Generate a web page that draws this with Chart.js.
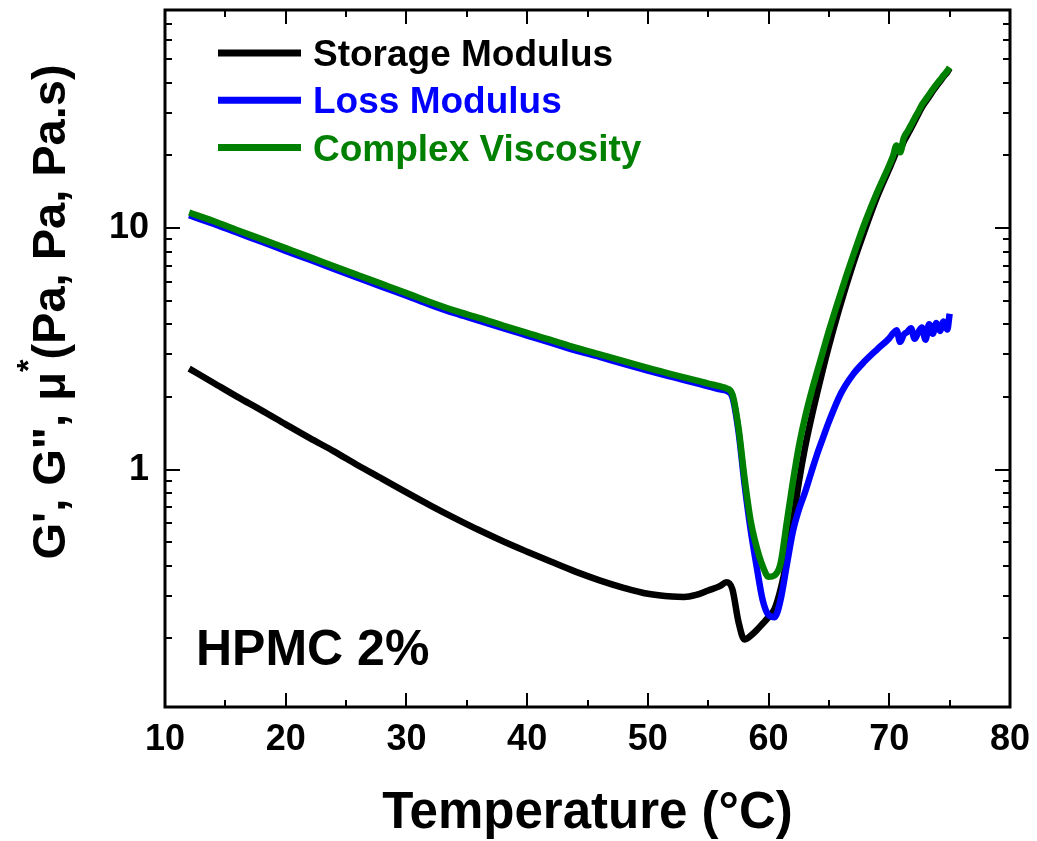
<!DOCTYPE html>
<html>
<head>
<meta charset="utf-8">
<script src="https://cdn.jsdelivr.net/npm/chart.js@4.4.1/dist/chart.umd.min.js"></script>
<style>
  html, body { margin: 0; padding: 0; background: #fff; }
  #wrap { width: 1037px; height: 841px; }
</style>
</head>
<body>
<div id="wrap"><canvas id="rheology"></canvas></div>
<script>
// temperature (°C) shared by all three series
const temperature = [12, 14, 16, 18, 20, 22, 24, 26, 28, 30, 32, 34, 36, 38, 40, 42, 44, 46, 48, 50, 52, 53, 54, 55, 56,
  56.5, 57, 57.5, 58, 58.5, 59, 59.5, 60, 60.5, 61, 61.5, 62, 62.5, 63, 63.5, 64, 64.5, 65,
  66, 67, 68, 69, 70, 70.3, 70.6, 70.9, 71.2, 71.5, 71.8, 72.1, 72.4, 72.7, 73, 73.3, 73.6, 73.9, 74.2, 74.5, 74.8, 75]

// G' (Pa)
const storageModulus = [2.62, 2.29, 2.0, 1.76, 1.54, 1.35, 1.19, 1.04, 0.916, 0.805, 0.71, 0.63, 0.562, 0.505, 0.457, 0.415, 0.378, 0.348, 0.324, 0.306, 0.298, 0.297, 0.303, 0.316, 0.33,
  0.342, 0.32, 0.235, 0.198, 0.205, 0.216, 0.23, 0.245, 0.265, 0.32, 0.42, 0.6, 0.88, 1.22, 1.6, 2.05, 2.6, 3.25,
  4.9, 7.1, 9.9, 13.5, 17.6, 19.1, 20.6, 21.0, 22.8, 24.3, 25.9, 27.7, 29.6, 31.6, 33.3, 35.0, 36.9, 38.7, 40.4, 42.4, 44.2, 45.8]

// G'' (Pa)
const lossModulus = [11.3, 10.43, 9.56, 8.78, 8.05, 7.39, 6.78, 6.22, 5.71, 5.25, 4.81, 4.44, 4.14, 3.85, 3.59, 3.35, 3.12, 2.93, 2.74, 2.57, 2.42, 2.35, 2.28, 2.21, 2.15,
  2.12, 2.0, 1.45, 0.88, 0.57, 0.40, 0.29, 0.25, 0.245, 0.29, 0.40, 0.55, 0.68, 0.80, 0.96, 1.15, 1.35, 1.58,
  2.07, 2.48, 2.82, 3.15, 3.5, 3.66, 3.78, 3.38, 3.62, 3.72, 3.85, 3.48, 3.7, 3.88, 3.45, 4.0, 3.65, 4.05, 3.75, 4.1, 3.8, 4.42]

// mu* (Pa.s)
const complexViscosity = [11.6, 10.7, 9.8, 9.0, 8.26, 7.58, 6.95, 6.38, 5.86, 5.38, 4.93, 4.55, 4.25, 3.95, 3.68, 3.44, 3.20, 3.00, 2.81, 2.64, 2.48, 2.41, 2.34, 2.27, 2.21,
  2.17, 2.05, 1.5, 0.93, 0.62, 0.48, 0.40, 0.36, 0.365, 0.41, 0.60, 0.88, 1.24, 1.63, 2.05, 2.52, 3.08, 3.76,
  5.43, 7.67, 10.6, 14.1, 18.2, 19.8, 22.0, 20.6, 23.6, 25.1, 26.7, 28.5, 30.3, 32.4, 34.0, 35.7, 37.5, 39.3, 41.0, 42.9, 44.7, 46.3]

const seriesNames = ['Storage Modulus', 'Loss Modulus', 'Complex Viscosity']
const seriesColors = ['#000000', '#0000ff', '#008000']

const xTickLabels = [10, 20, 30, 40, 50, 60, 70, 80]
const xMinorTicks = [15, 25, 35, 45, 55, 65, 75]
const yTickLabels = [1, 10]
const yMinorTicks = [0.2, 0.3, 0.4, 0.5, 0.6, 0.7, 0.8, 0.9, 2, 3, 4, 5, 6, 7, 8, 9, 20, 30, 40, 50, 60, 70]

const FONT = '"Liberation Sans", Arial, sans-serif'

const points = vals => temperature.map((t, i) => ({ x: t, y: vals[i] }))

// frame, inward ticks, legend and the texts
const decorPlugin = {
  id: 'decor',
  afterDatasetsDraw(chart) {
    const { ctx, chartArea: a, scales: { x, y } } = chart
    ctx.save()
    ctx.strokeStyle = '#000'
    ctx.lineWidth = 2
    ctx.beginPath()
    const xt = (v, len) => {
      const p = Math.round(x.getPixelForValue(v))
      ctx.moveTo(p, a.bottom); ctx.lineTo(p, a.bottom - len)
      ctx.moveTo(p, a.top); ctx.lineTo(p, a.top + len)
    }
    const yt = (v, len) => {
      const p = Math.round(y.getPixelForValue(v))
      ctx.moveTo(a.left, p); ctx.lineTo(a.left + len, p)
      ctx.moveTo(a.right, p); ctx.lineTo(a.right - len, p)
    }
    xTickLabels.forEach(v => xt(v, 14))
    xMinorTicks.forEach(v => xt(v, 7))
    yTickLabels.forEach(v => yt(v, 15))
    yMinorTicks.forEach(v => yt(v, 7))
    ctx.stroke()
    ctx.lineWidth = 3
    ctx.strokeRect(a.left, a.top, a.right - a.left, a.bottom - a.top)

    // legend
    ctx.font = 'bold 37px ' + FONT
    ctx.textAlign = 'left'
    ctx.textBaseline = 'alphabetic'
    ctx.lineWidth = 7
    seriesNames.forEach((name, i) => {
      const ly = 53 + i * 47.3
      ctx.strokeStyle = seriesColors[i]
      ctx.beginPath(); ctx.moveTo(218, ly); ctx.lineTo(301, ly); ctx.stroke()
      ctx.fillStyle = seriesColors[i]
      ctx.fillText(name, 313, ly + 13)
    })

    ctx.fillStyle = '#000'
    ctx.font = 'bold 50px ' + FONT
    ctx.fillText('HPMC 2%', 196, 665)

    // x title
    ctx.textAlign = 'center'
    ctx.font = 'bold 51px ' + FONT
    ctx.fillText('Temperature (°C)', (a.left + a.right) / 2, 828)

    // y title, rotated, with superscript asterisk
    ctx.translate(65, 312)
    ctx.rotate(-Math.PI / 2)
    ctx.textAlign = 'left'
    const big = 'bold 47px ' + FONT, small = 'bold 32px ' + FONT
    const parts = [['G\', G", \u03bc', big, 0], ['*', small, -26], ['(Pa, Pa, Pa.s)', big, 0]]
    let total = 0
    parts.forEach(p => { ctx.font = p[1]; total += ctx.measureText(p[0]).width })
    let cx = -total / 2
    parts.forEach(p => {
      ctx.font = p[1]
      ctx.fillText(p[0], cx, p[2])
      cx += ctx.measureText(p[0]).width
    })
    ctx.restore()
  }
}

new Chart(document.getElementById('rheology'), {
  type: 'line',
  data: {
    datasets: [
      { label: seriesNames[0], data: points(storageModulus), borderColor: seriesColors[0], order: 2 },
      { label: seriesNames[1], data: points(lossModulus), borderColor: seriesColors[1], order: 1 },
      { label: seriesNames[2], data: points(complexViscosity), borderColor: seriesColors[2], order: 0 }
    ]
  },
  options: {
    responsive: true,
    maintainAspectRatio: false,
    animation: false,
    layout: { padding: { top: 10, right: 27, left: 0, bottom: 0 } },
    elements: {
      point: { radius: 0 },
      line: { borderWidth: 6.5, cubicInterpolationMode: 'monotone', borderJoinStyle: 'round', fill: false }
    },
    plugins: {
      legend: { display: false },
      tooltip: { enabled: false }
    },
    scales: {
      x: {
        type: 'linear',
        min: 10,
        max: 80,
        grid: { display: false, drawTicks: false },
        border: { display: false },
        afterFit: s => { s.height = 134; s.paddingLeft = 0; s.paddingRight = 0 },
        afterBuildTicks: s => { s.ticks = xTickLabels.map(v => ({ value: v })) },
        ticks: {
          padding: 11,
          color: '#000',
          autoSkip: false,
          maxRotation: 0,
          font: { family: FONT, size: 36, weight: 'bold' },
          callback: v => String(v)
        }
      },
      y: {
        type: 'logarithmic',
        min: 0.104,
        max: 80,
        grid: { display: false, drawTicks: false },
        border: { display: false },
        afterFit: s => { s.width = 165; s.paddingTop = 0; s.paddingBottom = 0 },
        afterBuildTicks: s => { s.ticks = yTickLabels.map(v => ({ value: v })) },
        ticks: {
          padding: 16,
          color: '#000',
          autoSkip: false,
          font: { family: FONT, size: 36, weight: 'bold' },
          callback: v => String(v)
        }
      }
    }
  },
  plugins: [decorPlugin]
})
</script>
</body>
</html>
